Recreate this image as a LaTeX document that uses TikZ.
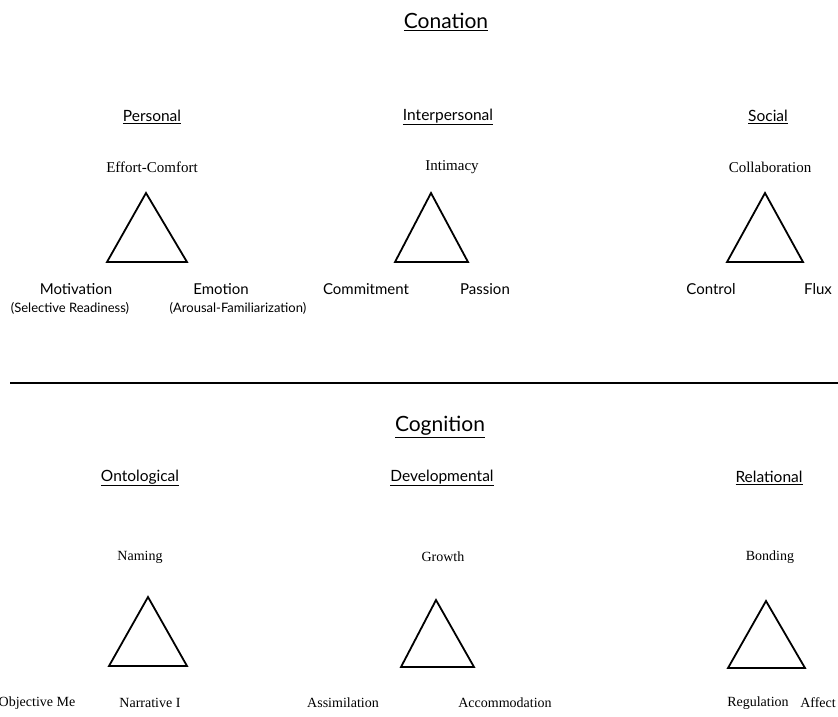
\documentclass[tikz,border=0pt]{standalone}
\usepackage{fontspec}
\setmainfont{Liberation Serif}
\newfontfamily\headfont{Lato}
\begin{document}
\begin{tikzpicture}[x=1pt,y=-1pt,
  title/.style={font=\headfont\fontsize{21}{25}\selectfont, inner sep=0pt},
  sub/.style={font=\headfont\fontsize{15.5}{19}\selectfont, inner sep=0pt},
  lbl/.style={font=\fontsize{14}{17}\selectfont, inner sep=0pt},
  tlbl/.style={font=\fontsize{15}{18}\selectfont, inner sep=0pt},
  slbl/.style={font=\headfont\fontsize{15}{18}\selectfont, inner sep=0pt},
  tiny/.style={font=\headfont\fontsize{13}{15}\selectfont, inner sep=0pt},
  tri/.style={line width=1.8pt, line join=miter}]
\useasboundingbox (0,0) rectangle (838,716);
% Conation
\node[title] (conation) at (446,22) {\underline{Conation}};
\node[sub] (personal) at (152,117) {\underline{Personal}};
\node[sub] (interp) at (448,117) {\underline{Interpersonal}};
\node[sub] (social) at (768,117) {\underline{Social}};
\node[tlbl] (effort) at (152,167) {Effort-Comfort};
\node[tlbl] (intimacy) at (452,167) {Intimacy};
\node[tlbl] (collab) at (770,167) {Collaboration};
\draw[tri] (146,193) -- (187,262) -- (107,262) -- cycle;
\draw[tri] (431,193) -- (468,262) -- (395,262) -- cycle;
\draw[tri] (765,193) -- (803,262) -- (727,262) -- cycle;
\node[slbl] (motiv) at (76,289) {Motivation};
\node[slbl] (emotion) at (221,289) {Emotion};
\node[tiny] (selread) at (70,308) {(Selective Readiness)};
\node[tiny] (arousal) at (238,308) {(Arousal-Familiarization)};
\node[slbl] (commit) at (366,289) {Commitment};
\node[slbl] (passion) at (485,289) {Passion};
\node[slbl] (control) at (711,289) {Control};
\node[slbl] (flux) at (818,289) {Flux};
% separator
\coordinate (sepL) at (10,383);
\coordinate (sepR) at (838,383);
\draw[line width=1.8pt] (sepL) -- (sepR);
% Cognition
\node[title] (cognition) at (440,427) {\underline{Cognition}};
\node[sub] (onto) at (140,478) {\underline{Ontological}};
\node[sub] (devel) at (442,478) {\underline{Developmental}};
\node[sub] (relat) at (769,478) {\underline{Relational}};
\node[lbl] (naming) at (140,557) {Naming};
\node[lbl] (growth) at (443,557) {Growth};
\node[lbl] (bonding) at (770,557) {Bonding};
\draw[tri] (148,597) -- (187,666) -- (109,666) -- cycle;
\draw[tri] (436,600) -- (474,667) -- (401,667) -- cycle;
\draw[tri] (766,601) -- (805,668) -- (728,668) -- cycle;
\node[lbl] (objme) at (37,703) {Objective Me};
\node[lbl] (narr) at (150,703) {Narrative I};
\node[lbl] (assim) at (343,703) {Assimilation};
\node[lbl] (accom) at (505,703) {Accommodation};
\node[lbl] (regul) at (758,703) {Regulation};
\node[lbl] (affect) at (818,703) {Affect};
\end{tikzpicture}
\end{document}
